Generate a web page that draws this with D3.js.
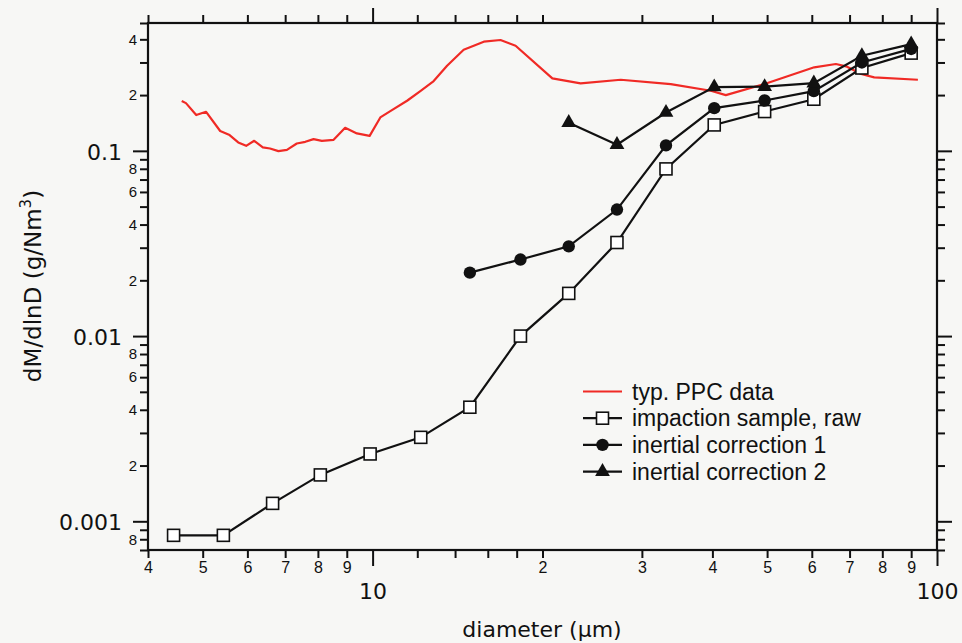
<!DOCTYPE html>
<html>
<head>
<meta charset="utf-8">
<script src="https://cdn.jsdelivr.net/npm/d3@7"></script>
<style>
  html, body { margin: 0; padding: 0; background: #f7f7f5; }
  svg { display: block; }
</style>
</head>
<body>
<svg id="chart" width="962" height="643"></svg>
<script>
// ---------------- data ----------------
const diameters = [4.44, 5.44, 6.65, 8.08, 9.90, 12.17, 14.87, 18.28, 22.26, 27.1, 33.1, 40.3, 49.5, 60.5, 73.6, 90.0];
const rawValues = [0.00084, 0.00084, 0.00125, 0.00178, 0.00231, 0.00284, 0.00413, 0.0100, 0.0170, 0.0320, 0.0799, 0.138, 0.163, 0.190, 0.280, 0.337];
const corr1Diameters = [14.87, 18.28, 22.26, 27.1, 33.1, 40.3, 49.5, 60.5, 73.6, 90.0];
const corr1Values = [0.0220, 0.0259, 0.0305, 0.0482, 0.107, 0.170, 0.187, 0.210, 0.300, 0.355];
const corr2Diameters = [22.26, 27.1, 33.1, 40.3, 49.5, 60.5, 73.6, 90.0];
const corr2Values = [0.142, 0.108, 0.161, 0.221, 0.222, 0.232, 0.326, 0.377];
const ppcDiameters = [4.59, 4.67, 4.87, 5.07, 5.37, 5.58, 5.78, 5.97, 6.17, 6.39, 6.58, 6.81, 7.05, 7.34, 7.60, 7.86, 8.13, 8.53, 8.94, 9.38, 9.88, 10.32, 10.82, 11.51, 12.15, 12.83, 13.55, 14.50, 15.74, 16.85, 17.92, 20.82, 23.36, 27.52, 33.75, 39.74, 42.25, 50.09, 60.6, 66.2, 69.0, 73.4, 77.4, 92.5];
const ppcValues = [0.186, 0.181, 0.156, 0.1625, 0.128, 0.1216, 0.111, 0.1064, 0.1133, 0.1043, 0.103, 0.0996, 0.1013, 0.1096, 0.1119, 0.1157, 0.1133, 0.1147, 0.1331, 0.1242, 0.1205, 0.1515, 0.166, 0.1864, 0.2102, 0.2381, 0.288, 0.3515, 0.3883, 0.3966, 0.3694, 0.2462, 0.2314, 0.242, 0.2294, 0.211, 0.200, 0.2323, 0.2824, 0.2943, 0.2859, 0.2598, 0.2493, 0.242];

const xDomain = [4, 100];
const yDomain = [0.0007, 0.49];
const xMinorTicks = [4, 5, 6, 7, 8, 9, 12, 14, 16, 18, 20, 30, 40, 50, 60, 70, 80, 90];
const xMinorLabels = ["4", "5", "6", "7", "8", "9", "", "", "", "", "2", "3", "4", "5", "6", "7", "8", "9"];
const xMajorTicks = [10, 100];
const xMajorLabels = ["10", "100"];
const yMinorTicks = [0.0007, 0.0008, 0.0009, 0.002, 0.003, 0.004, 0.005, 0.006, 0.007, 0.008, 0.009,
                     0.02, 0.03, 0.04, 0.05, 0.06, 0.07, 0.08, 0.09, 0.2, 0.3, 0.4, 0.49];
const yMinorLabels = ["", "8", "", "2", "", "4", "", "6", "", "8", "",
                      "2", "", "4", "", "6", "", "8", "", "2", "", "4", ""];
const yMajorTicks = [0.001, 0.01, 0.1];
const yMajorLabels = ["0.001", "0.01", "0.1"];
const legendLabels = ["typ. PPC data", "impaction sample, raw", "inertial correction 1", "inertial correction 2"];

// ---------------- layout ----------------
const svg = d3.select("#chart");
const L = 148, R = 937, T = 23, B = 550;
const x = d3.scaleLog().domain(xDomain).range([L, R]);
const y = d3.scaleLog().domain(yDomain).range([B, T]);

const ink = "#111";
const red = "#f02a25";

function styleAxis(g, fontSize, family) {
  g.select(".domain").remove();
  g.selectAll(".tick line").attr("stroke", ink).attr("stroke-width", 2);
  g.selectAll(".tick text").attr("fill", ink).style("font-size", fontSize + "px").style("font-family", family);
}

const small = "'Liberation Sans', Arial, sans-serif";
const big = "'DejaVu Sans', sans-serif";

// left axis
svg.append("g").attr("transform", `translate(${L},0)`)
  .call(d3.axisLeft(y).tickValues(yMinorTicks).tickSize(8).tickPadding(3)
    .tickFormat((d, i) => yMinorLabels[i]))
  .call(g => styleAxis(g, 15, small));
svg.append("g").attr("transform", `translate(${L},0)`)
  .call(d3.axisLeft(y).tickValues(yMajorTicks).tickSize(15).tickPadding(11)
    .tickFormat((d, i) => yMajorLabels[i]))
  .call(g => styleAxis(g, 22, big))
  .call(g => g.selectAll(".tick text").attr("dy", "0.38em"));

// right axis
svg.append("g").attr("transform", `translate(${R},0)`)
  .call(d3.axisRight(y).tickValues(yMinorTicks).tickSize(8).tickFormat(""))
  .call(g => styleAxis(g, 12, small));
svg.append("g").attr("transform", `translate(${R},0)`)
  .call(d3.axisRight(y).tickValues(yMajorTicks).tickSize(15).tickFormat(""))
  .call(g => styleAxis(g, 12, small));

// bottom axis
svg.append("g").attr("transform", `translate(0,${B})`)
  .call(d3.axisBottom(x).tickValues(xMinorTicks).tickSize(8).tickPadding(4)
    .tickFormat((d, i) => xMinorLabels[i]))
  .call(g => styleAxis(g, 16, small));
svg.append("g").attr("transform", `translate(0,${B})`)
  .call(d3.axisBottom(x).tickValues(xMajorTicks).tickSize(16).tickPadding(17)
    .tickFormat((d, i) => xMajorLabels[i]))
  .call(g => styleAxis(g, 22, big));

// top axis
svg.append("g").attr("transform", `translate(0,${T})`)
  .call(d3.axisTop(x).tickValues(xMinorTicks).tickSize(8).tickFormat(""))
  .call(g => styleAxis(g, 12, small));
svg.append("g").attr("transform", `translate(0,${T})`)
  .call(d3.axisTop(x).tickValues(xMajorTicks).tickSize(15).tickFormat(""))
  .call(g => styleAxis(g, 12, small));

// frame
svg.append("rect").attr("x", L).attr("y", T).attr("width", R - L).attr("height", B - T)
  .attr("fill", "none").attr("stroke", ink).attr("stroke-width", 2.2);

// axis titles
svg.append("text").attr("x", 542).attr("y", 637).attr("text-anchor", "middle")
  .style("font-family", big).style("font-size", "22px").attr("fill", ink)
  .text("diameter (\u00b5m)");

const yt = svg.append("text").attr("transform", "translate(41,286) rotate(-90)")
  .attr("text-anchor", "middle")
  .style("font-family", big).style("font-size", "23px").attr("fill", ink);
yt.append("tspan").text("dM/dlnD (g/Nm");
yt.append("tspan").attr("dy", -10).style("font-size", "15px").text("3");
yt.append("tspan").attr("dy", 10).text(")");

// ---------------- series ----------------
const line = d3.line().x(d => x(d[0])).y(d => y(d[1]));
const ppc = d3.zip(ppcDiameters, ppcValues);
const raw = d3.zip(diameters, rawValues);
const c1 = d3.zip(corr1Diameters, corr1Values);
const c2 = d3.zip(corr2Diameters, corr2Values);

svg.append("path").datum(ppc).attr("d", line).attr("fill", "none")
  .attr("stroke", red).attr("stroke-width", 2.2).attr("stroke-linejoin", "round");

function drawMarker(g, type, cx, cy) {
  if (type === "square") {
    g.append("rect").attr("x", cx - 6).attr("y", cy - 6).attr("width", 12).attr("height", 12)
      .attr("fill", "#fff").attr("stroke", ink).attr("stroke-width", 1.6);
  } else if (type === "circle") {
    g.append("circle").attr("cx", cx).attr("cy", cy).attr("r", 6.2).attr("fill", ink);
  } else if (type === "triangle") {
    g.append("path").attr("d", d3.symbol(d3.symbolTriangle, 95)())
      .attr("transform", `translate(${cx},${cy})`).attr("fill", ink);
  }
}

[[raw, "square"], [c1, "circle"], [c2, "triangle"]].forEach(([data, type]) => {
  const g = svg.append("g");
  g.append("path").datum(data).attr("d", line).attr("fill", "none")
    .attr("stroke", ink).attr("stroke-width", 2.2);
  data.forEach(d => drawMarker(g, type, x(d[0]), y(d[1])));
});

// ---------------- legend ----------------
const legendTypes = ["red", "square", "circle", "triangle"];
const lg = svg.append("g");
legendLabels.forEach((lab, i) => {
  const cy = 391.5 + i * 26.7;
  lg.append("line").attr("x1", 583).attr("x2", 622).attr("y1", cy).attr("y2", cy)
    .attr("stroke", i === 0 ? red : ink).attr("stroke-width", 2.2);
  if (i > 0) drawMarker(lg, legendTypes[i], 602.5, cy);
  lg.append("text").attr("x", 632).attr("y", cy + 8)
    .style("font-family", small).style("font-size", "23px").attr("fill", ink).text(lab);
});
</script>
</body>
</html>
